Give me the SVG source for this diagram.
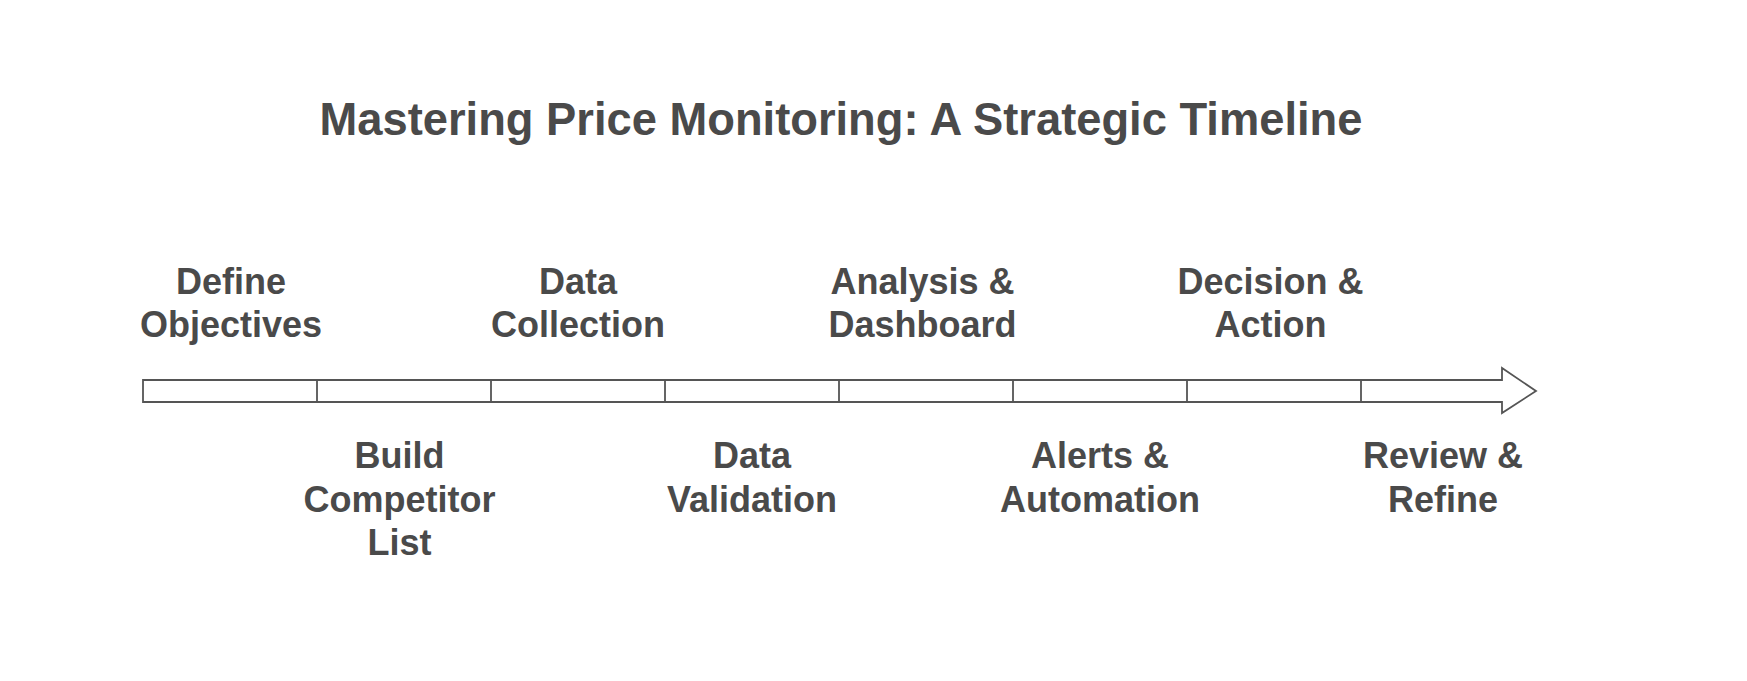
<svg xmlns="http://www.w3.org/2000/svg" width="1747" height="681" viewBox="0 0 1747 681">
<style>
text{font-family:"Liberation Sans",Arial,sans-serif;font-weight:bold;fill:#4a4a4a;text-anchor:middle}
.t{font-size:45.3px}
.l{font-size:36px}
.bar{fill:#fff;stroke:#555;stroke-width:1.8;stroke-linejoin:miter}
.div{stroke:#555;stroke-width:1.8}
</style>
<rect width="1747" height="681" fill="#fff"/>
<g id="title"><text class="t" x="841" y="135">Mastering Price Monitoring: A Strategic Timeline</text></g>
<g id="connectors">
<path class="bar" d="M143,380 H1502 V368 L1536,391 L1502,413 V402 H143 Z"/>
<path class="div" d="M317,380V402M491,380V402M665,380V402M839,380V402M1013,380V402M1187,380V402M1361,380V402"/>
</g>
<g id="n1"><text class="l" x="231" y="294">Define</text><text class="l" x="231" y="337">Objectives</text></g>
<g id="n2"><text class="l" x="399.5" y="468">Build</text><text class="l" x="399.5" y="511.5">Competitor</text><text class="l" x="399.5" y="555">List</text></g>
<g id="n3"><text class="l" x="578" y="294">Data</text><text class="l" x="578" y="337">Collection</text></g>
<g id="n4"><text class="l" x="752" y="468">Data</text><text class="l" x="752" y="511.5">Validation</text></g>
<g id="n5"><text class="l" x="922.5" y="294">Analysis &amp;</text><text class="l" x="922.5" y="337">Dashboard</text></g>
<g id="n6"><text class="l" x="1100" y="468">Alerts &amp;</text><text class="l" x="1100" y="511.5">Automation</text></g>
<g id="n7"><text class="l" x="1270.5" y="294">Decision &amp;</text><text class="l" x="1270.5" y="337">Action</text></g>
<g id="n8"><text class="l" x="1443" y="468">Review &amp;</text><text class="l" x="1443" y="511.5">Refine</text></g>
</svg>
